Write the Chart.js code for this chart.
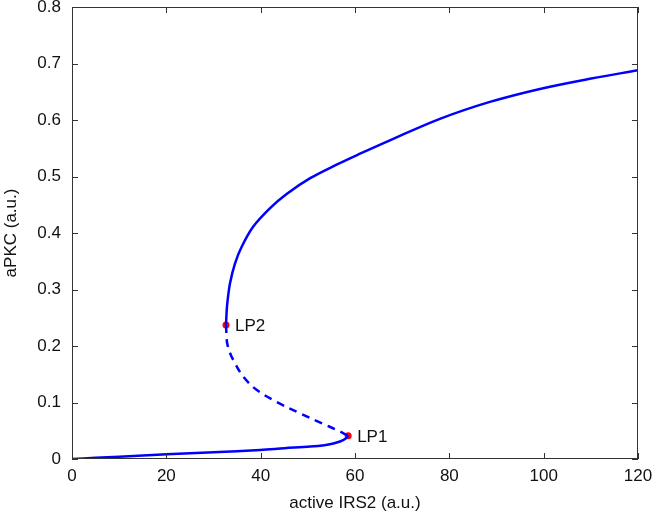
<!DOCTYPE html>
<html>
<head>
<meta charset="utf-8">
<script src="https://cdn.jsdelivr.net/npm/chart.js@4/dist/chart.umd.min.js"></script>
<style>
  body { margin: 0; background: #fff; }
  #wrap { width: 654px; height: 517px; }
</style>
</head>
<body>
<div id="wrap"><canvas id="bifChart" width="654" height="517"></canvas></div>
<script>
// stable upper branch (from LP2 up to the right edge)
let upperX = [32.65, 32.75, 32.93, 33.5, 34.55, 36.0, 38.4, 42.0, 45.5, 50.5, 56.1, 60.7, 67.4, 78.0, 88.6, 99.2, 109.8, 120];
let upperY = [0.237, 0.255, 0.276, 0.311, 0.346, 0.376, 0.411, 0.444, 0.469, 0.497, 0.521, 0.539, 0.564, 0.602, 0.632, 0.655, 0.673, 0.688];

// unstable middle branch (dashed) LP2 -> LP1
let unstableX = [32.65, 32.75, 32.9, 33.4, 34.2, 36.3, 39.2, 43.4, 48.3, 53.3, 56.5, 58.55];
let unstableY = [0.237, 0.22, 0.205, 0.19, 0.175, 0.146, 0.122, 0.101, 0.081, 0.062, 0.05, 0.041];

// stable lower branch 0 -> LP1
let lowerX = [0, 5, 10, 20.1, 30, 39.9, 45, 50.5, 53.5, 55.4, 56.8, 57.8, 58.55];
let lowerY = [0, 0.002, 0.0042, 0.0083, 0.012, 0.016, 0.019, 0.022, 0.0245, 0.0275, 0.031, 0.035, 0.041];

// limit points
let lpX = [58.55, 32.65];
let lpY = [0.041, 0.237];
let lpNames = ["LP1", "LP2"];

let xTicks = [0, 20, 40, 60, 80, 100, 120];
let yTicks = [0, 0.1, 0.2, 0.3, 0.4, 0.5, 0.6, 0.7, 0.8];

const FONT = "'Liberation Sans', Arial, Helvetica, sans-serif";
const TXT = "#111";

function toPoints(xs, ys) {
    return xs.map((x, i) => ({ x: x, y: ys[i] }));
}

// frame with inward ticks on all four sides + LP labels
const framePlugin = {
    id: "frame",
    afterDatasetsDraw(chart) {
        let ctx = chart.ctx;
        let a = chart.chartArea;
        let xs = chart.scales.x, ys = chart.scales.y;
        ctx.save();
        ctx.strokeStyle = "#333";
        ctx.lineWidth = 1;
        ctx.strokeRect(a.left + 0.5, a.top + 0.5, a.right - a.left - 1, a.bottom - a.top - 1);
        ctx.beginPath();
        xTicks.forEach((v) => {
            let px = Math.round(xs.getPixelForValue(v)) + 0.5;
            ctx.moveTo(px, a.bottom); ctx.lineTo(px, a.bottom - 6);
            ctx.moveTo(px, a.top); ctx.lineTo(px, a.top + 6);
        });
        yTicks.forEach((v) => {
            let py = Math.round(ys.getPixelForValue(v)) + 0.5;
            ctx.moveTo(a.left, py); ctx.lineTo(a.left + 6, py);
            ctx.moveTo(a.right, py); ctx.lineTo(a.right - 6, py);
        });
        ctx.stroke();

        // labels next to limit points
        ctx.fillStyle = TXT;
        ctx.font = "17px " + FONT;
        ctx.textBaseline = "middle";
        ctx.textAlign = "left";
        lpNames.forEach((name, i) => {
            let px = xs.getPixelForValue(lpX[i]);
            let py = ys.getPixelForValue(lpY[i]);
            ctx.fillText(name, px + 9, py + 1);
        });
        ctx.restore();
    }
};

let ctx = document.getElementById("bifChart").getContext("2d");
new Chart(ctx, {
    type: "scatter",
    data: {
        datasets: [
            {
                data: toPoints(upperX, upperY),
                showLine: true,
                borderColor: "#0000ff",
                borderWidth: 2.5,
                pointRadius: 0,
                tension: 0.35
            },
            {
                data: toPoints(unstableX, unstableY),
                showLine: true,
                borderColor: "#0000ff",
                borderWidth: 2.5,
                borderDash: [8, 6],
                pointRadius: 0,
                tension: 0.35
            },
            {
                data: toPoints(lowerX, lowerY),
                showLine: true,
                borderColor: "#0000ff",
                borderWidth: 2.5,
                pointRadius: 0,
                tension: 0.35
            },
            {
                data: toPoints(lpX, lpY),
                showLine: false,
                pointRadius: 3.5,
                pointBackgroundColor: "#ff0000",
                pointBorderColor: "#ff0000",
                pointBorderWidth: 0
            }
        ]
    },
    options: {
        responsive: false,
        animation: false,
        layout: { padding: { top: 7, right: 16, left: 0, bottom: 0 } },
        plugins: {
            legend: { display: false },
            tooltip: { enabled: false }
        },
        scales: {
            x: {
                type: "linear",
                min: 0,
                max: 120,
                grid: { display: false, drawTicks: false },
                border: { display: false },
                afterBuildTicks: (s) => { s.ticks = xTicks.map((v) => ({ value: v })); },
                ticks: { padding: 7, color: TXT, font: { family: FONT, size: 17 } },
                title: {
                    display: true,
                    text: "active IRS2 (a.u.)",
                    color: TXT,
                    font: { family: FONT, size: 17 },
                    padding: { top: 0, bottom: 3 }
                },
                afterFit: (s) => { s.height = 58; s.paddingLeft = 0; s.paddingRight = 0; }
            },
            y: {
                type: "linear",
                min: 0,
                max: 0.8,
                grid: { display: false, drawTicks: false },
                border: { display: false },
                afterBuildTicks: (s) => { s.ticks = yTicks.map((v) => ({ value: v })); },
                ticks: {
                    padding: 11,
                    color: TXT,
                    font: { family: FONT, size: 17 },
                    callback: (v) => String(Math.round(v * 10) / 10)
                },
                title: {
                    display: true,
                    text: "aPKC (a.u.)",
                    color: TXT,
                    font: { family: FONT, size: 17 },
                    padding: { top: 1, bottom: 0 }
                },
                afterFit: (s) => { s.width = 72; s.paddingTop = 0; s.paddingBottom = 0; }
            }
        }
    },
    plugins: [framePlugin]
});
</script>
</body>
</html>
